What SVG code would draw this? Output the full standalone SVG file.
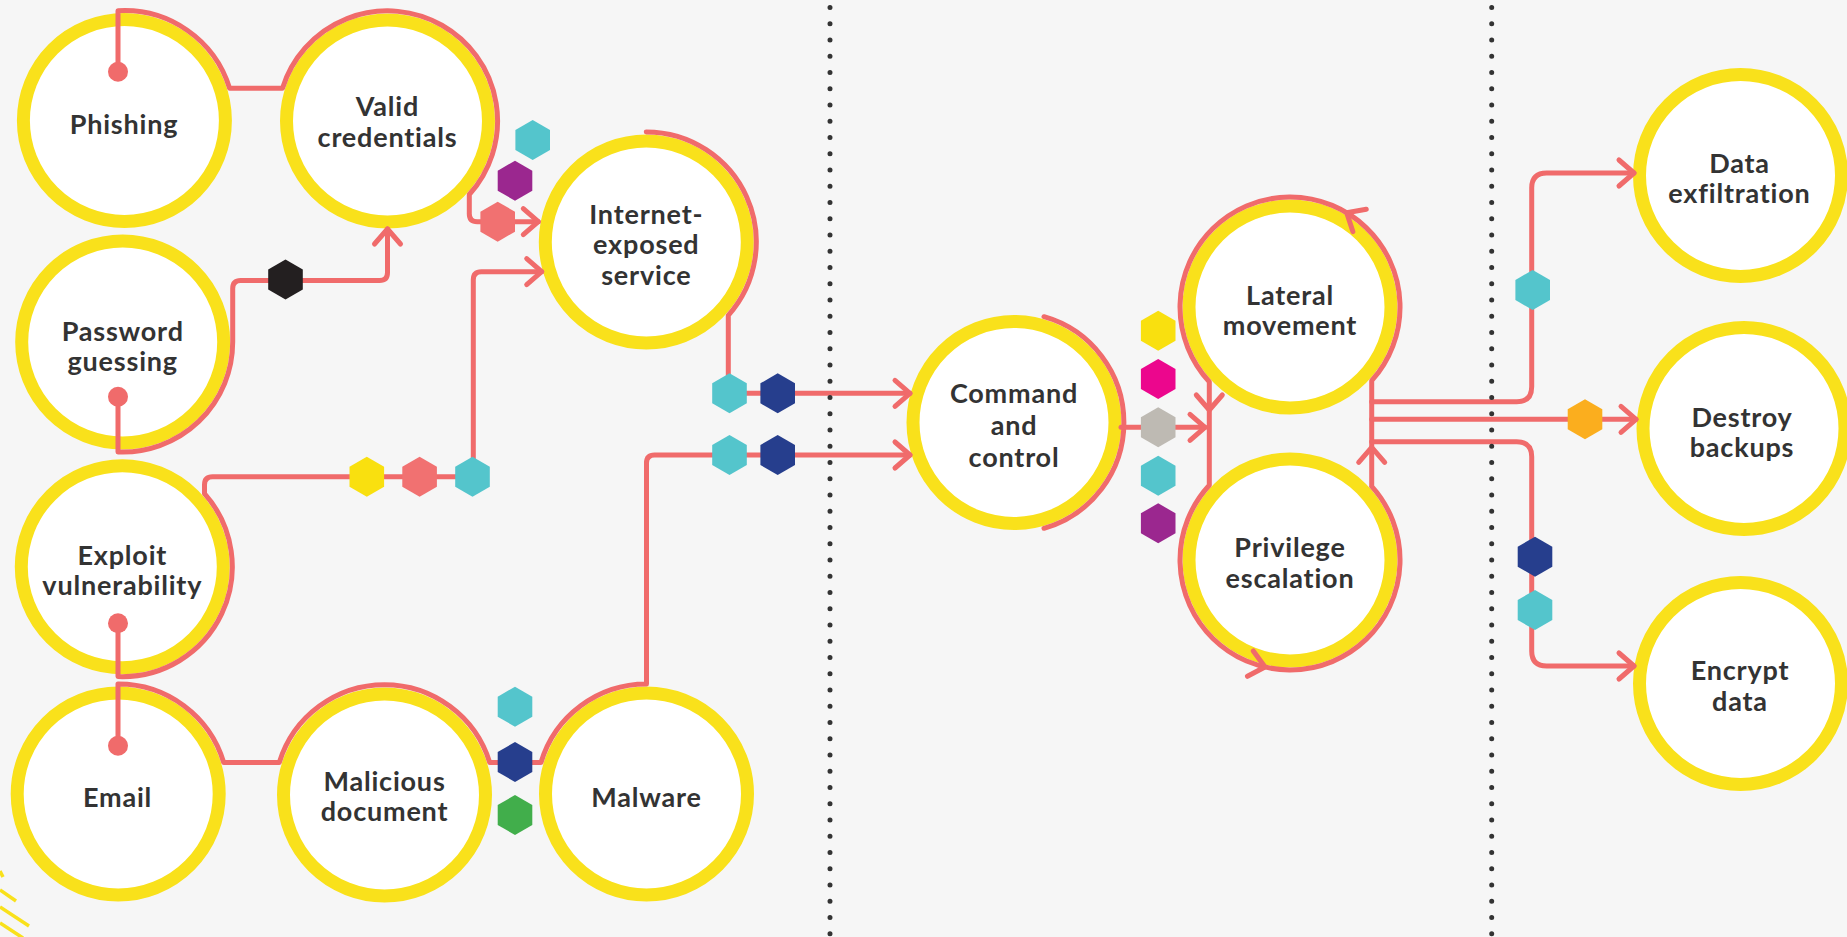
<svg xmlns="http://www.w3.org/2000/svg" xmlns:xlink="http://www.w3.org/1999/xlink" width="1847" height="937" viewBox="0 0 1847 937">
<style>
.ring{fill:#fff;stroke:#F9E11B;stroke-width:13}
.lbl{font-family:Lato,"Liberation Sans",sans-serif;font-weight:700;font-size:27px;letter-spacing:0.8px;fill:#333;text-anchor:middle}
.ln{fill:none;stroke:#F06B6B;stroke-width:5;stroke-linecap:round;stroke-linejoin:round}
.dot{fill:#F06B6B}
.div{fill:none;stroke:#333;stroke-width:5;stroke-linecap:round;stroke-dasharray:0 16.25}
.stripe{stroke:#F9E11B;stroke-width:3.5}
</style>
<defs>
<marker id="ah" viewBox="-20 -20 40 40" markerWidth="40" markerHeight="40" markerUnits="userSpaceOnUse" orient="auto" refX="0" refY="0">
<path d="M-15,-13 L0,0 L-15,13" fill="none" stroke="#F06B6B" stroke-width="5" stroke-linecap="round" stroke-linejoin="round"/>
</marker>
<path id="chev" class="ln" d="M-15,-13 L0,0 L-15,13"/>
<path id="hx" d="M0,-20 L17.3,-10 L17.3,10 L0,20 L-17.3,10 L-17.3,-10Z"/>
</defs>
<rect width="1847" height="937" fill="#F6F6F6"/>
<g id="decor">
<line class="stripe" x1="0" y1="871" x2="3" y2="877"/>
<line class="stripe" x1="0" y1="890" x2="16" y2="901"/>
<line class="stripe" x1="0" y1="907" x2="29" y2="926"/>
<line class="stripe" x1="0" y1="923" x2="23" y2="938"/>
</g>
<g id="nodes">
<g id="phishing"><circle class="ring" cx="124.4" cy="120.5" r="101"/><text class="lbl" x="124" y="133.5">Phishing</text></g>
<g id="valid-credentials"><circle class="ring" cx="387.5" cy="121" r="101"/><text class="lbl" x="387.5" y="116">Valid</text><text class="lbl" x="387.5" y="146.7">credentials</text></g>
<g id="internet-exposed-service"><circle class="ring" cx="646.3" cy="242" r="101"/><text class="lbl" x="646.3" y="224">Internet-</text><text class="lbl" x="646.3" y="254.3">exposed</text><text class="lbl" x="646.3" y="285">service</text></g>
<g id="password-guessing"><circle class="ring" cx="122.7" cy="342" r="101"/><text class="lbl" x="122.7" y="340.7">Password</text><text class="lbl" x="122.7" y="370.5">guessing</text></g>
<g id="exploit-vulnerability"><circle class="ring" cx="122.3" cy="566.7" r="101"/><text class="lbl" x="122.3" y="565">Exploit</text><text class="lbl" x="122.3" y="595">vulnerability</text></g>
<g id="email"><circle class="ring" cx="118.2" cy="794" r="101"/><text class="lbl" x="117.5" y="806.7">Email</text></g>
<g id="malicious-document"><circle class="ring" cx="384.5" cy="795" r="101"/><text class="lbl" x="384.5" y="790.7">Malicious</text><text class="lbl" x="384.5" y="821">document</text></g>
<g id="malware"><circle class="ring" cx="646.5" cy="794" r="101"/><text class="lbl" x="646.5" y="806.7">Malware</text></g>
<g id="command-and-control"><circle class="ring" cx="1014" cy="422.5" r="101"/><text class="lbl" x="1014" y="403.3">Command</text><text class="lbl" x="1014" y="435">and</text><text class="lbl" x="1014" y="466.7">control</text></g>
<g id="lateral-movement"><circle class="ring" cx="1290" cy="307" r="101"/><text class="lbl" x="1290" y="305">Lateral</text><text class="lbl" x="1290" y="335">movement</text></g>
<g id="privilege-escalation"><circle class="ring" cx="1290" cy="560" r="101"/><text class="lbl" x="1290" y="557.3">Privilege</text><text class="lbl" x="1290" y="588.3">escalation</text></g>
<g id="data-exfiltration"><circle class="ring" cx="1740.5" cy="175.5" r="101"/><text class="lbl" x="1739.5" y="173">Data</text><text class="lbl" x="1739.5" y="203">exfiltration</text></g>
<g id="destroy-backups"><circle class="ring" cx="1744" cy="428.5" r="101"/><text class="lbl" x="1742" y="426.7">Destroy</text><text class="lbl" x="1742" y="456.7">backups</text></g>
<g id="encrypt-data"><circle class="ring" cx="1740.5" cy="683.5" r="101"/><text class="lbl" x="1740" y="680">Encrypt</text><text class="lbl" x="1740" y="711">data</text></g>
</g>
<g id="connectors">
<path class="ln" marker-end="url(#ah)" d="M118,71.7 V10.7 A110,110 0 0 1 229.6,88.3 H282.5 A110,110 0 1 1 469.3,194.5 V213.7 Q469.3,221.7 477.3,221.7 H538.3"/>
<path class="ln" marker-end="url(#ah)" d="M118,396.7 V451.9 A110,110 0 0 0 232.7,342 V288.5 Q232.7,280.5 240.7,280.5 H379.5 Q387.5,280.5 387.5,272.5 V229"/>
<path class="ln" marker-end="url(#ah)" d="M118,623.3 V676.6 A110,110 0 0 0 204.5,493.6 V484.7 Q204.5,476.7 212.5,476.7 H465.3 Q473.3,476.7 473.3,468.7 V279.7 Q473.3,271.7 481.3,271.7 H541.7"/>
<path class="ln" marker-end="url(#ah)" d="M646.3,132 A110,110 0 0 1 728.3,315.3 V385.3 Q728.3,393.3 736.3,393.3 H910"/>
<path class="ln" marker-end="url(#ah)" d="M118,745.7 V684 A110,110 0 0 1 223.7,762.5 H279.3 A110,110 0 0 1 489.7,762.5 H541 A110,110 0 0 1 646.5,684 V463 Q646.5,455 654.5,455 H910"/>
<path class="ln" d="M1044,316.7 A110,110 0 0 1 1044,528.3"/>
<path class="ln" marker-end="url(#ah)" d="M1121,427.3 H1205"/>
<path class="ln" d="M1371.7,486.3 V380.7 A110,110 0 1 0 1209.3,381.75 V485.25 A110,110 0 1 0 1371.7,486.3"/>
<use href="#chev" transform="translate(1209.3,410) rotate(90)"/>
<use href="#chev" transform="translate(1371.7,447.3) rotate(-90)"/>
<use href="#chev" transform="translate(1346.7,212.7) rotate(-149)"/>
<use href="#chev" transform="translate(1265,667) rotate(13)"/>
<path class="ln" marker-end="url(#ah)" d="M1371.7,401.7 H1516.7 Q1531.7,401.7 1531.7,386.7 V188 Q1531.7,173 1546.7,173 H1634"/>
<path class="ln" marker-end="url(#ah)" d="M1371.7,419.3 H1636"/>
<path class="ln" marker-end="url(#ah)" d="M1371.7,441.7 H1516.7 Q1531.7,441.7 1531.7,456.7 V651 Q1531.7,666 1546.7,666 H1634"/>
<circle class="dot" cx="118" cy="71.7" r="10"/>
<circle class="dot" cx="118" cy="396.7" r="10"/>
<circle class="dot" cx="118" cy="623.3" r="10"/>
<circle class="dot" cx="118" cy="745.7" r="10"/>
</g>
<g id="hexes">
<use href="#hx" x="532.7" y="140" fill="#54C5CC"/>
<use href="#hx" x="515" y="180.7" fill="#9B278F"/>
<use href="#hx" x="497.7" y="221.7" fill="#F17171"/>
<use href="#hx" x="285.5" y="279.5" fill="#231F20"/>
<use href="#hx" x="366.8" y="476.7" fill="#F9E00F"/>
<use href="#hx" x="419.6" y="476.7" fill="#F17171"/>
<use href="#hx" x="472.5" y="476.7" fill="#54C5CC"/>
<use href="#hx" x="515" y="706.7" fill="#54C5CC"/>
<use href="#hx" x="515" y="762" fill="#263E8D"/>
<use href="#hx" x="515" y="815" fill="#41AE4B"/>
<use href="#hx" x="729.5" y="393.3" fill="#54C5CC"/>
<use href="#hx" x="777.7" y="393.3" fill="#263E8D"/>
<use href="#hx" x="729.5" y="455" fill="#54C5CC"/>
<use href="#hx" x="777.7" y="455" fill="#263E8D"/>
<use href="#hx" x="1158.2" y="330.7" fill="#F9E00F"/>
<use href="#hx" x="1158.2" y="379" fill="#EC068D"/>
<use href="#hx" x="1158.2" y="427.3" fill="#BEBAB3"/>
<use href="#hx" x="1158.2" y="475.7" fill="#54C5CC"/>
<use href="#hx" x="1158.2" y="523.3" fill="#9B278F"/>
<use href="#hx" x="1532.7" y="290" fill="#54C5CC"/>
<use href="#hx" x="1585" y="419.3" fill="#FBAE1E"/>
<use href="#hx" x="1535" y="556.7" fill="#263E8D"/>
<use href="#hx" x="1535" y="610" fill="#54C5CC"/>
</g>
<g id="dividers">
<line class="div" x1="830" y1="7.5" x2="830" y2="937"/>
<line class="div" x1="1491.7" y1="7.5" x2="1491.7" y2="937"/>
</g>
</svg>
